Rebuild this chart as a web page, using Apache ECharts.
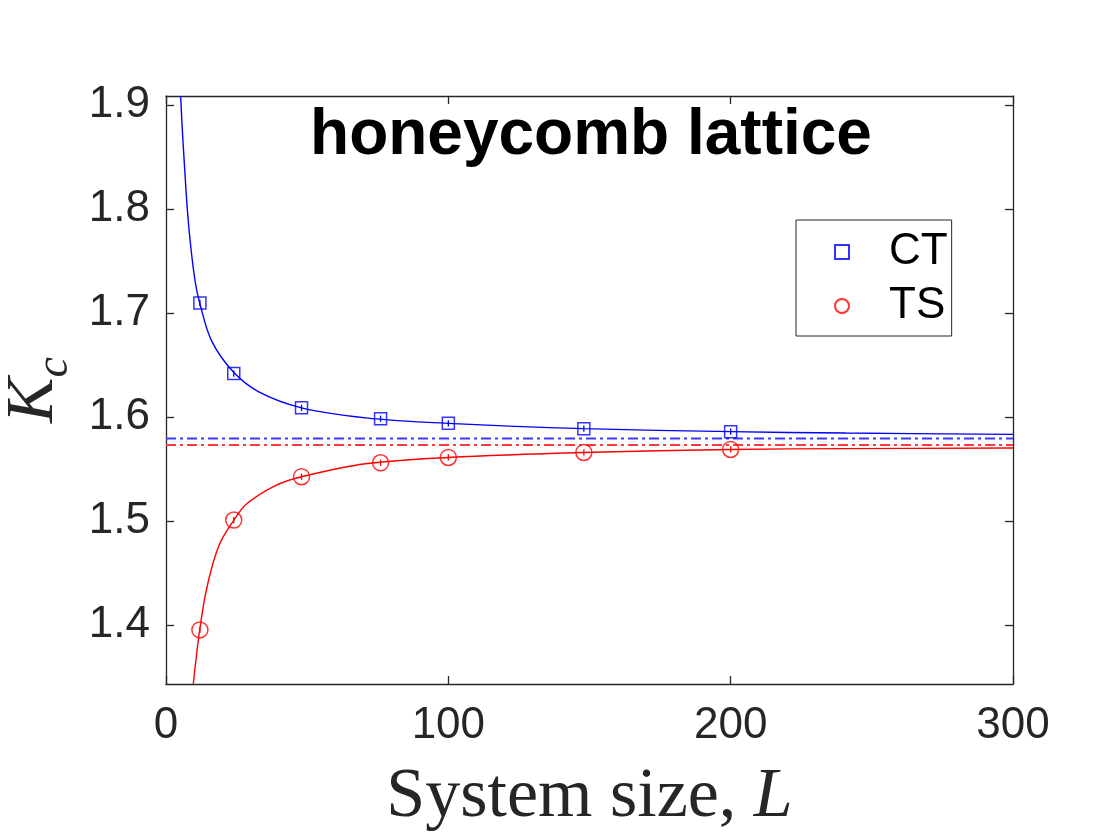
<!DOCTYPE html>
<html>
<head>
<meta charset="utf-8">
<script src="https://cdn.jsdelivr.net/npm/echarts@6/dist/echarts.min.js"></script>
<style>
html,body{margin:0;padding:0;background:#fff;}
#chart{width:1120px;height:840px;}
</style>
</head>
<body>
<div id="chart"></div>
<script>
// ---- data ----
const L_SIZES = [12, 24, 48, 76, 100, 148, 200];
const K_CT = [1.7097, 1.6418, 1.6089, 1.5985, 1.5940, 1.5889, 1.5860];
const K_TS = [1.3955, 1.5011, 1.5427, 1.5561, 1.5612, 1.5660, 1.5689];
const ERR_CT = [0.003, 0.003, 0.003, 0.003, 0.003, 0.003, 0.003];
const ERR_TS = [0.003, 0.003, 0.003, 0.003, 0.003, 0.003, 0.003];

// fitted curves, points
const FIT_CT_L = [5.2, 5.77, 6.48, 7.54, 8.73, 10.37, 12.0, 16.2, 23.8, 32.7, 48, 70.7, 100, 148, 200, 241, 300];
const FIT_CT_K = [1.9086, 1.8766, 1.8446, 1.8000, 1.7648, 1.7296, 1.7090, 1.6730, 1.6435, 1.6245, 1.6089, 1.5993, 1.5940, 1.5889, 1.5860, 1.5847, 1.5834];
const FIT_TS_L = [9.67, 10.6, 11.9, 14.0, 16.7, 19.5, 23.8, 28.5, 38.6, 48, 70.7, 100, 148, 200, 241, 300];
const FIT_TS_K = [1.3435, 1.3665, 1.3948, 1.4300, 1.4600, 1.4810, 1.5001, 1.5165, 1.5340, 1.5427, 1.5552, 1.5612, 1.5660, 1.5689, 1.5697, 1.5703];

// extrapolated critical values (dash-dot lines)
const KINF_CT = 1.5795;
const KINF_TS = 1.5731;

const X_RANGE = [0, 300];
const Y_RANGE = [1.3435, 1.9086];
const Y_TICKS = [1.4, 1.5, 1.6, 1.7, 1.8, 1.9];
const X_TICKS = [0, 100, 200, 300];

const TITLE = 'honeycomb lattice';
const SERIES_NAMES = ['CT', 'TS'];

// ---- build ----
const pair = (xs, ys) => xs.map((x, i) => [x, ys[i]]);
const triple = (xs, ys, es) => xs.map((x, i) => [x, ys[i], es[i]]);

const AX = '#262626';
const SANS = '"Liberation Sans", Arial, Helvetica, sans-serif';
const SERIF = '"Liberation Serif", "Times New Roman", serif';

function errRender(color) {
  return function (params, api) {
    const x = api.value(0), y = api.value(1), e = api.value(2);
    const p1 = api.coord([x, y - e]);
    const p2 = api.coord([x, y + e]);
    return {
      type: 'line',
      shape: { x1: p1[0], y1: p1[1], x2: p2[0], y2: p2[1] },
      style: { stroke: color, lineWidth: 1.3 }
    };
  };
}

const tickStyle = { show: true, inside: true, length: 8, lineStyle: { color: AX, width: 1.3 } };
const lineStyleAx = { show: true, onZero: false, lineStyle: { color: AX, width: 1.3 } };

const option = {
  animation: false,
  backgroundColor: '#ffffff',
  grid: { left: 166, right: 107, top: 96, bottom: 156, containLabel: false, outerBoundsMode: 'none' },
  title: {
    text: TITLE,
    left: 586,
    top: 99,
    textAlign: 'center',
    textStyle: { fontFamily: SANS, fontWeight: 'bold', fontSize: 64, color: '#000' }
  },
  legend: {
    orient: 'vertical',
    left: 796,
    top: 220,
    data: [
      { name: SERIES_NAMES[0], icon: 'path://M0,0 L10,0 L10,10 L0,10 Z' },
      { name: SERIES_NAMES[1], icon: 'circle' }
    ],
    symbolKeepAspect: true,
    itemWidth: 84,
    itemHeight: 14,
    itemGap: 10,
    padding: [10, 4, 8, 38],
    borderColor: AX,
    borderWidth: 1,
    backgroundColor: '#ffffff',
    textStyle: { fontFamily: SANS, fontSize: 44, color: '#000' },
    selectedMode: false
  },
  xAxis: [
    {
      type: 'value', min: X_RANGE[0], max: X_RANGE[1], interval: 100,
      position: 'bottom',
      name: 'System size, {l|L}',
      nameLocation: 'middle',
      nameGap: 79,
      nameTextStyle: {
        fontFamily: SERIF, fontSize: 70, color: AX,
        rich: { l: { fontFamily: SERIF, fontStyle: 'italic', fontSize: 70, color: AX } }
      },
      axisLine: lineStyleAx,
      axisTick: Object.assign({}, tickStyle, { customValues: X_TICKS }),
      axisLabel: { show: true, margin: 20, fontFamily: SANS, fontSize: 44, color: AX, customValues: X_TICKS },
      splitLine: { show: false }
    },
    {
      type: 'value', min: X_RANGE[0], max: X_RANGE[1], interval: 100,
      position: 'top',
      axisLine: lineStyleAx,
      axisTick: Object.assign({}, tickStyle, { customValues: X_TICKS }),
      axisLabel: { show: false },
      splitLine: { show: false }
    }
  ],
  yAxis: [
    {
      type: 'value', min: Y_RANGE[0], max: Y_RANGE[1],
      position: 'left',
      name: '{k|K}{c|c}',
      nameLocation: 'middle',
      nameRotate: 90,
      nameGap: 87,
      nameTextStyle: {
        color: AX,
        rich: {
          k: { fontFamily: SERIF, fontStyle: 'italic', fontSize: 68, color: AX, verticalAlign: 'bottom', padding: [0, 0, 10, 0] },
          c: { fontFamily: SERIF, fontStyle: 'italic', fontSize: 46, color: AX, verticalAlign: 'bottom' }
        }
      },
      axisLine: lineStyleAx,
      axisTick: Object.assign({}, tickStyle, { customValues: Y_TICKS }),
      axisLabel: { show: true, margin: 16, fontFamily: SANS, fontSize: 44, color: AX,
                   customValues: Y_TICKS, formatter: v => v.toFixed(1) },
      splitLine: { show: false }
    },
    {
      type: 'value', min: Y_RANGE[0], max: Y_RANGE[1],
      position: 'right',
      axisLine: lineStyleAx,
      axisTick: Object.assign({}, tickStyle, { customValues: Y_TICKS }),
      axisLabel: { show: false },
      splitLine: { show: false }
    }
  ],
  series: [
    {
      name: 'CT limit', type: 'line', xAxisIndex: 0, yAxisIndex: 0,
      data: [[X_RANGE[0], KINF_CT], [X_RANGE[1], KINF_CT]],
      symbol: 'none', silent: true,
      lineStyle: { color: '#3a3aff', width: 2, type: [10, 4, 3, 4] }, z: 2
    },
    {
      name: 'TS limit', type: 'line', xAxisIndex: 0, yAxisIndex: 0,
      data: [[X_RANGE[0], KINF_TS], [X_RANGE[1], KINF_TS]],
      symbol: 'none', silent: true,
      lineStyle: { color: '#ff3a3a', width: 2, type: [10, 4, 3, 4] }, z: 2
    },
    {
      name: 'CT fit', type: 'line', xAxisIndex: 0, yAxisIndex: 0,
      data: pair(FIT_CT_L, FIT_CT_K), symbol: 'none', smooth: 0.35,
      clip: true, silent: true,
      lineStyle: { color: '#0000ff', width: 1.4 }, z: 3
    },
    {
      name: 'TS fit', type: 'line', xAxisIndex: 0, yAxisIndex: 0,
      data: pair(FIT_TS_L, FIT_TS_K), symbol: 'none', smooth: 0.35,
      clip: true, silent: true,
      lineStyle: { color: '#ff0000', width: 1.4 }, z: 3
    },
    {
      name: 'CT err', type: 'custom', xAxisIndex: 0, yAxisIndex: 0,
      data: triple(L_SIZES, K_CT, ERR_CT), renderItem: errRender('#0000ff'), silent: true, z: 4
    },
    {
      name: 'TS err', type: 'custom', xAxisIndex: 0, yAxisIndex: 0,
      data: triple(L_SIZES, K_TS, ERR_TS), renderItem: errRender('#ff0000'), silent: true, z: 4
    },
    {
      name: SERIES_NAMES[0], type: 'scatter', xAxisIndex: 0, yAxisIndex: 0,
      data: pair(L_SIZES, K_CT), symbol: 'rect', symbolSize: 12,
      itemStyle: { color: 'rgba(255,255,255,0)', borderColor: '#0000ff', borderWidth: 1.5 }, z: 5
    },
    {
      name: SERIES_NAMES[1], type: 'scatter', xAxisIndex: 0, yAxisIndex: 0,
      data: pair(L_SIZES, K_TS), symbol: 'circle', symbolSize: 16,
      itemStyle: { color: 'rgba(255,255,255,0)', borderColor: '#ff0000', borderWidth: 1.5 }, z: 5
    }
  ]
};

const chart = echarts.init(document.getElementById('chart'), null, { renderer: 'canvas' });
chart.setOption(option);
</script>
</body>
</html>
